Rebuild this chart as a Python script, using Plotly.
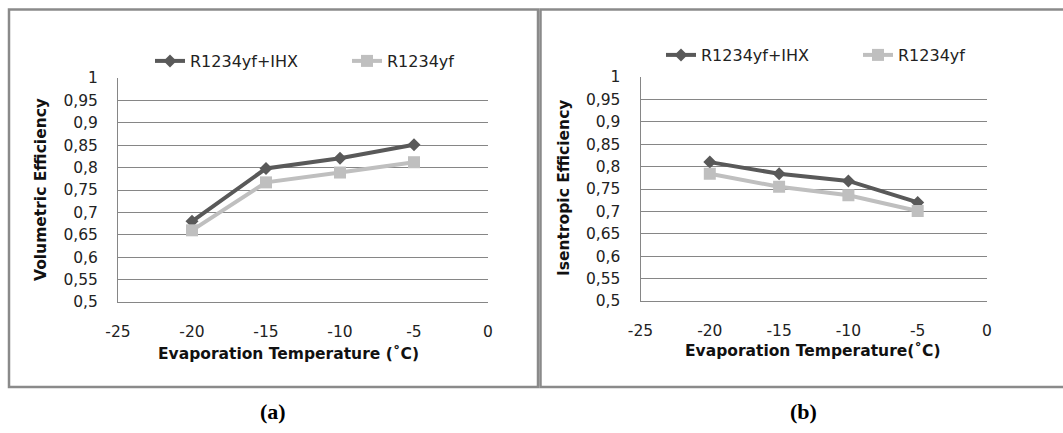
import plotly.graph_objects as go

W, H = 1063, 433

# ---------------- data ----------------
temps = [-20, -15, -10, -5]
vol_ihx = [0.68, 0.798, 0.821, 0.851]
vol_yf = [0.66, 0.767, 0.789, 0.812]
isen_ihx = [0.81, 0.784, 0.768, 0.72]
isen_yf = [0.784, 0.755, 0.736, 0.701]

series_names = ["R1234yf+IHX", "R1234yf"]
x_tickvals = [-25, -20, -15, -10, -5, 0]
x_ticktext = ["-25", "-20", "-15", "-10", "-5", "0"]
y_tickvals = [0.5, 0.55, 0.6, 0.65, 0.7, 0.75, 0.8, 0.85, 0.9, 0.95, 1.0]
y_ticktext = ["0,5", "0,55", "0,6", "0,65", "0,7", "0,75", "0,8", "0,85", "0,9", "0,95", "1"]

DARK = "#595959"
LIGHT = "#bfbfbf"
GRID = "#868686"
FONT = "DejaVu Sans"


def px(x):
    return x / W


def py(y):
    return 1 - y / H


fig = go.Figure()

# panel (a)
fig.add_trace(go.Scatter(x=temps, y=vol_ihx, name=series_names[0], mode="lines+markers",
                         line=dict(color=DARK, width=4),
                         marker=dict(symbol="diamond", size=10, color=DARK),
                         xaxis="x", yaxis="y", legend="legend"))
fig.add_trace(go.Scatter(x=temps, y=vol_yf, name=series_names[1], mode="lines+markers",
                         line=dict(color=LIGHT, width=4),
                         marker=dict(symbol="square", size=12, color=LIGHT),
                         xaxis="x", yaxis="y", legend="legend"))
# panel (b)
fig.add_trace(go.Scatter(x=temps, y=isen_ihx, name=series_names[0], mode="lines+markers",
                         line=dict(color=DARK, width=4),
                         marker=dict(symbol="diamond", size=10, color=DARK),
                         xaxis="x2", yaxis="y2", legend="legend2"))
fig.add_trace(go.Scatter(x=temps, y=isen_yf, name=series_names[1], mode="lines+markers",
                         line=dict(color=LIGHT, width=4),
                         marker=dict(symbol="square", size=12, color=LIGHT),
                         xaxis="x2", yaxis="y2", legend="legend2"))

xaxis_common = dict(range=[-25, 0], tickvals=x_tickvals, ticktext=x_ticktext,
                    showgrid=False, zeroline=False, showline=True, linecolor=GRID,
                    linewidth=1, ticks="", ticklabelstandoff=15,
                    tickfont=dict(family=FONT, size=15.5, color="#222222"),
                    automargin=False, fixedrange=True)
yaxis_common = dict(range=[0.5, 1.0], tickvals=y_tickvals, ticktext=y_ticktext,
                    showgrid=True, gridcolor=GRID, gridwidth=1, zeroline=False,
                    showline=True, linecolor=GRID, linewidth=1, ticks="",
                    ticklabelstandoff=16,
                    tickfont=dict(family=FONT, size=15.5, color="#222222"),
                    automargin=False, fixedrange=True)

legend_common = dict(orientation="h", font=dict(family=FONT, size=16, color="#222222"),
                     bgcolor="rgba(0,0,0,0)", borderwidth=0, xref="paper", yref="paper",
                     xanchor="left", yanchor="middle", entrywidthmode="pixels",
                     entrywidth=152, itemclick=False, itemdoubleclick=False)

fig.update_layout(
    width=W, height=H,
    margin=dict(l=0, r=0, t=0, b=0),
    paper_bgcolor="white", plot_bgcolor="white",
    font=dict(family=FONT, color="#222222"),
    xaxis=dict(domain=[px(118), px(488)], anchor="y", **xaxis_common),
    yaxis=dict(domain=[py(302), py(78)], anchor="x", **yaxis_common),
    xaxis2=dict(domain=[px(640.5), px(987)], anchor="y2", **xaxis_common),
    yaxis2=dict(domain=[py(301), py(77)], anchor="x2", **yaxis_common),
    legend=dict(x=px(150), y=py(61), **legend_common),
    legend2=dict(x=px(661), y=py(55), **legend_common),
    showlegend=True,
)

# panel borders
border = dict(type="rect", xref="paper", yref="paper",
              line=dict(color="#8a8a8a", width=2.5), fillcolor="rgba(0,0,0,0)", layer="below")
fig.add_shape(x0=px(9), x1=px(538), y0=py(387), y1=py(9.5), **border)
fig.add_shape(x0=px(540.5), x1=px(1070), y0=py(387), y1=py(9.5), **border)

# axis titles
title_font = dict(family=FONT, size=15.5, color="#111111")
fig.add_annotation(text="<b>Evaporation Temperature (˚C)</b>", x=px(288), y=py(353),
                   xref="paper", yref="paper", showarrow=False, font=title_font,
                   xanchor="center", yanchor="middle")
fig.add_annotation(text="<b>Volumetric Efficiency</b>", x=px(41), y=py(190),
                   xref="paper", yref="paper", showarrow=False, font=title_font,
                   textangle=-90, xanchor="center", yanchor="middle")
fig.add_annotation(text="<b>Evaporation Temperature(˚C)</b>", x=px(813), y=py(350),
                   xref="paper", yref="paper", showarrow=False, font=title_font,
                   xanchor="center", yanchor="middle")
fig.add_annotation(text="<b>Isentropic Efficiency</b>", x=px(564), y=py(188),
                   xref="paper", yref="paper", showarrow=False, font=title_font,
                   textangle=-90, xanchor="center", yanchor="middle")

# panel labels
label_font = dict(family="Liberation Serif", size=22, color="#000000")
fig.add_annotation(text="<b>(a)</b>", x=px(273), y=py(411), xref="paper", yref="paper",
                   showarrow=False, font=label_font, xanchor="center", yanchor="middle")
fig.add_annotation(text="<b>(b)</b>", x=px(803), y=py(411), xref="paper", yref="paper",
                   showarrow=False, font=label_font, xanchor="center", yanchor="middle")

fig.write_html("out.html")
